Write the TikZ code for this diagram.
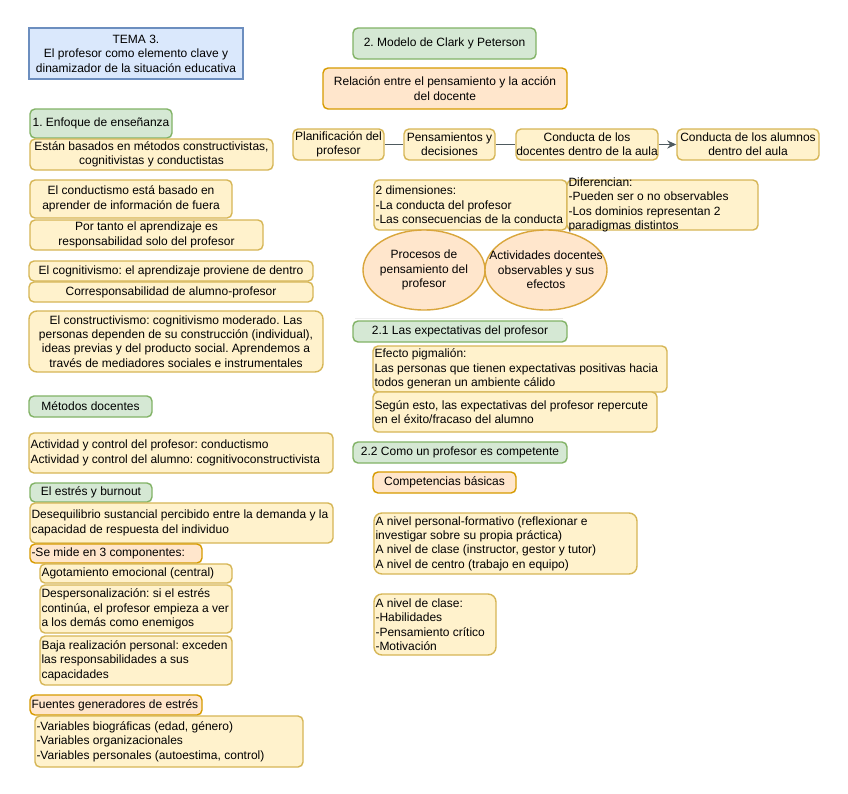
\documentclass[tikz,border=0pt]{standalone}
\usepackage{fontspec}
\setmainfont{Liberation Sans}
\usetikzlibrary{arrows.meta,shapes.geometric}
\frenchspacing

\definecolor{verdeF}{HTML}{D5E8D4}
\definecolor{verdeL}{HTML}{82B366}
\definecolor{amaF}{HTML}{FFF2CC}
\definecolor{amaL}{HTML}{D6B656}
\definecolor{narF}{HTML}{FFE6CC}
\definecolor{narL}{HTML}{D79B00}
\definecolor{elipL}{HTML}{D9A63C}
\definecolor{azuF}{HTML}{DAE8FC}
\definecolor{azuL}{HTML}{6C8EBF}
\definecolor{flecha}{HTML}{4E5A5F}

\begin{document}
\begin{tikzpicture}[x=1pt,y=-1pt,
  every node/.style={font=\fontsize{12}{14.4}\selectfont, inner xsep=1pt, inner ysep=0.5pt},
  caja/.style={draw, line width=1.4pt, rounded corners=5pt},
  verde/.style={caja, draw=verdeL, fill=verdeF},
  amarilla/.style={caja, draw=amaL, fill=amaF},
  naranja/.style={caja, draw=narL, fill=narF},
  azul/.style={draw=azuL, fill=azuF, line width=1.4pt},
  elipse/.style={ellipse, draw=elipL, fill=narF, line width=1.4pt},
  conector/.style={draw=flecha, line width=1.9pt},
  textoizq/.style={label={[anchor=west, align=left, inner xsep=2pt]west:{#1}}},
  textocen/.style={label={[align=center]center:{#1}}},
  cen/.style={align=center}]

\fill[white] (0,0) rectangle (848,793);
\useasboundingbox (0,0) rectangle (848,793);

% columna izquierda
\node[azul, minimum width=214pt, minimum height=51pt, cen] (tema) at (136,53.5) {TEMA 3.\\El profesor como elemento clave y\\dinamizador de la situación educativa};

\node[verde, minimum width=142pt, minimum height=29pt] (enfoque) at (101,123.5) {1. Enfoque de enseñanza};
\node[amarilla, minimum width=243pt, minimum height=31pt, cen] (basados) at (151.5,154.5) {Están basados en métodos constructivistas,\\cognitivistas y conductistas};
\node[amarilla, minimum width=202pt, minimum height=38pt, cen] (conductismo) at (131,199) {El conductismo está basado en\\aprender de información de fuera};
\node[amarilla, minimum width=233pt, minimum height=30pt, cen] (portanto) at (146.5,235) {Por tanto el aprendizaje es\\responsabilidad solo del profesor};
\node[amarilla, minimum width=284pt, minimum height=20pt] (cognitivismo) at (171,271) {El cognitivismo: el aprendizaje proviene de dentro};
\node[amarilla, minimum width=284pt, minimum height=20pt] (corresp) at (171,292) {Corresponsabilidad de alumno-profesor};
\node[amarilla, minimum width=294pt, minimum height=61pt, cen, rounded corners=8pt] (constructivismo) at (176,341.5) {El constructivismo: cognitivismo moderado. Las\\personas dependen de su construcción (individual),\\ideas previas y del producto social. Aprendemos a\\través de mediadores sociales e instrumentales};

\node[verde, minimum width=123pt, minimum height=21pt] (metodos) at (90.5,406.5) {Métodos docentes};
\node[amarilla, minimum width=304pt, minimum height=40pt, textoizq={Actividad y control del profesor: conductismo\\Actividad y control del alumno: cognitivoconstructivista}] (actividad) at (181,453) {};

\node[verde, minimum width=122pt, minimum height=19pt] (estres) at (91,492.5) {El estrés y burnout};
\node[amarilla, minimum width=303pt, minimum height=40pt, textoizq={Desequilibrio sustancial percibido entre la demanda y la\\capacidad de respuesta del individuo}] (desequilibrio) at (181.5,523) {};
\node[naranja, minimum width=172pt, minimum height=19pt, textoizq={-Se mide en 3 componentes:}] (componentes) at (116,553.5) {};
\node[amarilla, minimum width=192pt, minimum height=19pt, textoizq={Agotamiento emocional (central)}] (agotamiento) at (136,573.5) {};
\node[amarilla, minimum width=192pt, minimum height=48pt, textoizq={Despersonalización: si el estrés\\continúa, el profesor empieza a ver\\a los demás como enemigos}] (despers) at (136,609) {};
\node[amarilla, minimum width=192pt, minimum height=49pt, textoizq={Baja realización personal: exceden\\las responsabilidades a sus\\capacidades}] (baja) at (136,660.5) {};

\node[naranja, minimum width=172pt, minimum height=20pt, textoizq={Fuentes generadores de estrés}] (fuentes) at (116,705) {};
\node[amarilla, minimum width=268pt, minimum height=51pt, textoizq={-Variables biográficas (edad, género)\\-Variables organizacionales\\-Variables personales (autoestima, control)}] (variables) at (169,741.5) {};

% columna derecha
\node[verde, minimum width=183pt, minimum height=31pt] (modelo) at (444.5,43.5) {2. Modelo de Clark y Peterson};
\node[naranja, minimum width=244pt, minimum height=41pt, cen] (relacion) at (445,88.5) {Relación entre el pensamiento y la acción\\del docente};

\node[amarilla, minimum width=91pt, minimum height=31pt, cen] (planif) at (338.5,144.5) {Planificación del\\profesor};
\node[amarilla, minimum width=91pt, minimum height=31pt, cen] (pensam) at (449.5,144.5) {Pensamientos y\\decisiones};
\node[amarilla, minimum width=142pt, minimum height=31pt, cen, inner xsep=0pt] (condDoc) at (587,144.5) {Conducta de los\\docentes dentro de la aula};
\node[amarilla, minimum width=142pt, minimum height=31pt, cen] (condAlu) at (748,144.5) {Conducta de los alumnos\\dentro del aula};

\draw[conector] (planif) -- (pensam);
\draw[conector] (pensam) -- (condDoc);
\draw[conector, -{Stealth[length=9pt,width=8pt]}] (condDoc) -- (condAlu);

\node[amarilla, minimum width=193pt, minimum height=50pt, textoizq={2 dimensiones:\\-La conducta del profesor\\-Las consecuencias de la conducta}] (dimensiones) at (470.5,205) {};
\node[amarilla, minimum width=191pt, minimum height=50pt, textoizq={Diferencian:\\-Pueden ser o no observables\\-Los dominios representan 2\\paradigmas distintos}] (diferencian) at (662.5,205) {};

\node[elipse, minimum width=122pt, minimum height=80pt, textocen={Procesos de\\pensamiento del\\profesor}] (procesos) at (424,270) {};
\node[elipse, minimum width=122pt, minimum height=80pt, textocen={Actividades docentes\\observables y sus\\efectos}] (actividades) at (546,270) {};

\draw[black!7, line width=1pt] (355,318) -- (563,318);

\node[verde, minimum width=214pt, minimum height=21pt] (expectativas) at (460,331.5) {2.1 Las expectativas del profesor};
\node[amarilla, minimum width=294pt, minimum height=46pt, textoizq={Efecto pigmalión:\\Las personas que tienen expectativas positivas hacia\\todos generan un ambiente cálido}] (pigmalion) at (520,369) {};
\node[amarilla, minimum width=284pt, minimum height=40pt, textoizq={Según esto, las expectativas del profesor repercute\\en el éxito/fracaso del alumno}] (segun) at (515,412) {};

\node[verde, minimum width=214pt, minimum height=21pt] (competente) at (460,452.5) {2.2 Como un profesor es competente};
\node[naranja, minimum width=143pt, minimum height=21pt] (basicas) at (444.5,482.5) {Competencias básicas};
\node[amarilla, minimum width=263pt, minimum height=61pt, rounded corners=8pt, textoizq={A nivel personal-formativo (reflexionar e\\investigar sobre su propia práctica)\\A nivel de clase (instructor, gestor y tutor)\\A nivel de centro (trabajo en equipo)}] (niveles) at (505.5,543.5) {};
\node[amarilla, minimum width=122pt, minimum height=61pt, rounded corners=8pt, textoizq={A nivel de clase:\\-Habilidades\\-Pensamiento crítico\\-Motivación}] (clase) at (435,624.5) {};

\end{tikzpicture}
\end{document}
